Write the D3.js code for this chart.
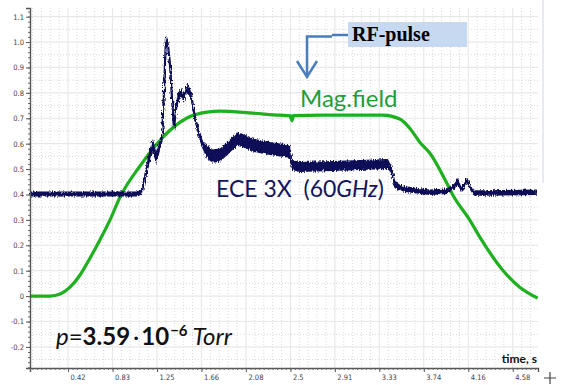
<!DOCTYPE html>
<html><head><meta charset="utf-8">
<script src="https://cdn.jsdelivr.net/npm/d3@7"></script>
<style>
html,body{margin:0;padding:0;background:#fff;}
svg{display:block;}
</style></head><body>
<svg id="chart" width="568" height="385"></svg>
<script>
// Axis ticks
const xTickValues = [5/12, 10/12, 15/12, 20/12, 25/12, 30/12, 35/12, 40/12, 45/12, 50/12, 55/12];
const xTickLabels = ["0.42","0.83","1.25","1.66","2.08","2.5","2.91","3.33","3.74","4.16","4.58"];
const yTickValues = [-0.2,-0.1,0,0.1,0.2,0.3,0.4,0.5,0.6,0.7,0.8,0.9,1.0,1.1];
const yTickLabels = ["-0.2","-0.1","0","0.1","0.2","0.3","0.4","0.5","0.6","0.7","0.8","0.9","1.0","1.1"];

// Magnetic field trace (time, s / arbitrary units)
const fieldTime  = [0.061, 0.250, 0.342, 0.435, 0.529, 0.623, 0.716, 0.810, 0.904, 1.091, 1.306, 1.531, 1.718, 1.840, 2.149, 2.402, 2.500, 2.514, 2.528, 2.800, 3.100, 3.366, 3.525, 3.620, 3.712, 3.806, 3.965, 4.022, 4.181, 4.275, 4.490, 4.649, 4.817];
const fieldValue = [0.000, 0.000, 0.008, 0.035, 0.083, 0.150, 0.222, 0.300, 0.390, 0.512, 0.626, 0.701, 0.724, 0.728, 0.720, 0.712, 0.710, 0.690, 0.710, 0.712, 0.712, 0.712, 0.697, 0.660, 0.606, 0.563, 0.445, 0.398, 0.299, 0.232, 0.102, 0.035, -0.008];

// ECE 3X (60 GHz) signal: centre value and half-width of its noise band
const eceTime   = [0.061, 1.072, 1.110, 1.138, 1.166, 1.194, 1.213, 1.241, 1.259, 1.278, 1.297, 1.316, 1.334, 1.353, 1.372, 1.390, 1.409, 1.428, 1.447, 1.475, 1.503, 1.531, 1.550, 1.578, 1.606, 1.634, 1.671, 1.718, 1.774, 1.840, 1.915, 1.999, 2.074, 2.149, 2.280, 2.402, 2.495, 2.514, 2.589, 2.898, 3.413, 3.450, 3.478, 3.572, 3.806, 3.965, 4.040, 4.068, 4.097, 4.125, 4.153, 4.190, 4.218, 4.368, 4.808];
const eceValue  = [0.402, 0.402, 0.417, 0.469, 0.524, 0.575, 0.594, 0.543, 0.567, 0.594, 0.622, 0.811, 1.020, 0.988, 0.909, 0.783, 0.661, 0.732, 0.780, 0.803, 0.780, 0.819, 0.811, 0.772, 0.701, 0.654, 0.602, 0.567, 0.551, 0.555, 0.583, 0.618, 0.610, 0.594, 0.583, 0.575, 0.571, 0.516, 0.508, 0.512, 0.520, 0.496, 0.437, 0.421, 0.409, 0.413, 0.433, 0.453, 0.421, 0.433, 0.457, 0.425, 0.406, 0.406, 0.409];
const eceSpread = [0.010, 0.010, 0.015, 0.020, 0.025, 0.025, 0.025, 0.025, 0.025, 0.020, 0.015, 0.006, 0.006, 0.006, 0.008, 0.008, 0.010, 0.018, 0.018, 0.018, 0.018, 0.018, 0.018, 0.018, 0.016, 0.016, 0.016, 0.026, 0.026, 0.026, 0.026, 0.026, 0.026, 0.026, 0.026, 0.026, 0.026, 0.020, 0.020, 0.020, 0.020, 0.014, 0.012, 0.011, 0.011, 0.011, 0.011, 0.011, 0.011, 0.011, 0.011, 0.011, 0.011, 0.011, 0.011];

const svg = d3.select("#chart");
const x = d3.scaleLinear().domain([0.06, 4.82]).range([30, 538]);
const y = d3.scaleLinear().domain([-0.283, 1.134]).range([368, 8]);

// noise texture for the oscilloscope traces
const defs = svg.append("defs");
const f = defs.append("filter").attr("id", "grain").attr("filterUnits", "userSpaceOnUse")
  .attr("x", 0).attr("y", 0).attr("width", 568).attr("height", 385);
f.append("feTurbulence").attr("type", "fractalNoise").attr("baseFrequency", "0.9 0.25")
  .attr("numOctaves", 2).attr("seed", 4).attr("result", "n");
f.append("feDisplacementMap").attr("in", "SourceGraphic").attr("in2", "n")
  .attr("scale", 4.5).attr("xChannelSelector", "R").attr("yChannelSelector", "G");

// grid: dotted minor lines, solid major lines
const grid = svg.append("g");
const minorX = d3.range(1, 58).filter(k => k % 5 !== 0).map(k => k * 5 / 60).filter(v => v > 0.06 && v < 4.82);
grid.selectAll(".gxm").data(minorX).join("line")
  .attr("x1", d => x(d)).attr("x2", d => x(d)).attr("y1", y(1.134)).attr("y2", y(-0.283))
  .attr("stroke", "#d9d9d9").attr("stroke-width", 1).attr("stroke-dasharray", "1,2");
const minorY = d3.range(-5, 23).filter(k => Math.abs(k) % 2 === 1).map(k => k * 0.05);
grid.selectAll(".gym").data(minorY).join("line")
  .attr("x1", x(0.06)).attr("x2", x(4.82)).attr("y1", d => y(d)).attr("y2", d => y(d))
  .attr("stroke", "#d9d9d9").attr("stroke-width", 1).attr("stroke-dasharray", "1,2");
grid.selectAll(".gx").data(xTickValues).join("line")
  .attr("x1", d => x(d)).attr("x2", d => x(d)).attr("y1", y(1.134)).attr("y2", y(-0.283))
  .attr("stroke", "#e8e8e8").attr("stroke-width", 1.2);
grid.selectAll(".gy").data(yTickValues).join("line")
  .attr("x1", x(0.06)).attr("x2", x(4.82)).attr("y1", d => y(d)).attr("y2", d => y(d))
  .attr("stroke", "#e8e8e8").attr("stroke-width", 1.2);

// frame line on the right
svg.append("line").attr("x1", 543).attr("x2", 543).attr("y1", 0).attr("y2", 183)
  .attr("stroke", "#cfd6e0").attr("stroke-width", 1);

// magnetic field
const fieldData = fieldTime.map((t, k) => [t, fieldValue[k]]);
svg.append("path").datum(fieldData)
  .attr("d", d3.line().x(d => x(d[0])).y(d => y(d[1])).curve(d3.curveMonotoneX))
  .attr("fill", "none").attr("stroke", "#1eb01e").attr("stroke-width", 3.2);
svg.append("circle").attr("cx", x(2.514)).attr("cy", y(0.705)).attr("r", 2.6).attr("fill", "#1eb01e");

// ECE signal band
const eceData = eceTime.map((t, k) => ({t, v: eceValue[k], s: eceSpread[k]}));
const ece = svg.append("g").attr("filter", "url(#grain)");
ece.append("path").datum(eceData)
  .attr("d", d3.area().x(d => x(d.t)).y0(d => y(d.v - d.s)).y1(d => y(d.v + d.s)))
  .attr("fill", "#0c0c58");
ece.append("path").datum(eceData)
  .attr("d", d3.line().x(d => x(d.t)).y(d => y(d.v)))
  .attr("fill", "none").attr("stroke", "#0c0c58").attr("stroke-width", 2.2);

// axes
const axisFont = "'Liberation Sans Narrow','DejaVu Sans Condensed',sans-serif";
const xAxis = d3.axisBottom(x).tickValues(xTickValues).tickSize(4).tickFormat((d, k) => xTickLabels[k]);
const gx = svg.append("g").attr("transform", "translate(0,368)").call(xAxis);
gx.selectAll("text").attr("text-anchor", "start").attr("dx", "2").attr("y", 7)
  .attr("font-family", axisFont).attr("font-size", 7.5).attr("fill", "#444");
gx.select(".domain").attr("stroke", "#555").attr("stroke-width", 1.4);
gx.selectAll(".tick line").attr("stroke", "#555");
const gxMinor = svg.append("g").attr("transform", "translate(0,368)")
  .call(d3.axisBottom(x).tickValues(d3.range(1, 116).map(k => k * 5 / 120).filter(v => v > 0.06 && v < 4.82)).tickSize(2).tickFormat(""));
gxMinor.select(".domain").remove();
gxMinor.selectAll("line").attr("stroke", "#666");

const yAxis = d3.axisLeft(y).tickValues(yTickValues).tickSize(4).tickFormat((d, k) => yTickLabels[k]);
const gy = svg.append("g").attr("transform", "translate(30,0)").call(yAxis);
gy.selectAll("text").attr("x", -6).attr("font-family", axisFont).attr("font-size", 7.5).attr("fill", "#444");
gy.select(".domain").attr("stroke", "#555").attr("stroke-width", 1.4);
gy.selectAll(".tick line").attr("stroke", "#555");
const gyMinor = svg.append("g").attr("transform", "translate(30,0)")
  .call(d3.axisLeft(y).tickValues(d3.range(-14, 57).map(k => k * 0.02)).tickSize(2).tickFormat(""));
gyMinor.select(".domain").remove();
gyMinor.selectAll("line").attr("stroke", "#666");

svg.append("text").attr("x", 537).attr("y", 363).attr("text-anchor", "end")
  .attr("font-family", "Lato, sans-serif").attr("font-weight", "bold").attr("font-size", 12)
  .attr("fill", "#111").text("time, s");

// labels
const labelFont = "Lato, 'Open Sans', sans-serif";
svg.append("text").attr("x", 300).attr("y", 107).attr("font-family", labelFont)
  .attr("font-size", 24).attr("fill", "#1f9e3a").text("Mag.field");

const eceLabel = svg.append("text").attr("x", 216).attr("y", 197).attr("font-family", labelFont)
  .attr("font-size", 23).attr("fill", "#15155e").style("white-space", "pre");
eceLabel.append("tspan").text("ECE 3X  (60");
eceLabel.append("tspan").attr("font-style", "italic").text("GHz");
eceLabel.append("tspan").text(")");

const pLabel = svg.append("text").attr("x", 56).attr("y", 345).attr("font-family", labelFont)
  .attr("font-size", 24).attr("fill", "#111");
pLabel.append("tspan").attr("font-style", "italic").text("p");
pLabel.append("tspan").text("=");
pLabel.append("tspan").attr("font-weight", "bold").text("3.59");
pLabel.append("tspan").attr("dx", 3).text("\u00b7");
pLabel.append("tspan").attr("dx", 2).attr("font-weight", "bold").text("10");
pLabel.append("tspan").attr("font-weight", "bold").attr("font-size", 15).attr("dy", -9).attr("dx", 1).text("\u22126");
pLabel.append("tspan").attr("font-style", "italic").attr("dy", 9).text(" Torr");

// RF-pulse marker
svg.append("rect").attr("x", 348).attr("y", 22).attr("width", 119).attr("height", 25).attr("fill", "#c6d9f1");
svg.append("text").attr("x", 352).attr("y", 41).attr("font-family", "'Liberation Serif', serif")
  .attr("font-weight", "bold").attr("font-size", 20).attr("fill", "#000").text("RF-pulse");
svg.append("path").attr("d", "M348,35 L332,35 M332,36.5 L307,36.5 L307,77")
  .attr("fill", "none").attr("stroke", "#4a7ebb").attr("stroke-width", 2.5);
svg.append("path").attr("d", "M297,61 L307,77 L317,61")
  .attr("fill", "none").attr("stroke", "#4a7ebb").attr("stroke-width", 2.5);

// crosshair mark in the lower-right corner
svg.append("path").attr("d", "M544,378 L556,378 M550,372 L550,384")
  .attr("stroke", "#444").attr("stroke-width", 1.2);
</script>
</body></html>
